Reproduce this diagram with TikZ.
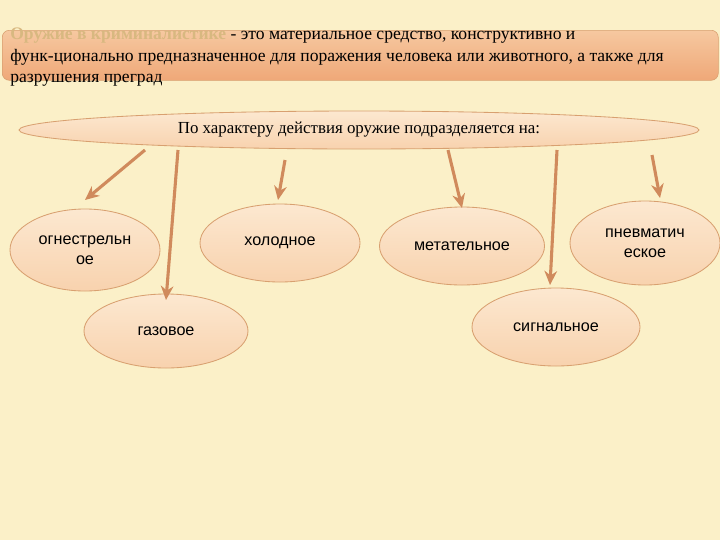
\documentclass[tikz,border=0pt]{standalone}
\usepackage{fontspec}
\setmainfont{Liberation Serif}
\newfontfamily\sansf{Liberation Sans}
\usetikzlibrary{shapes.geometric,arrows.meta}
\definecolor{bg}{HTML}{FBF0C8}
\definecolor{ell}{HTML}{F8D2AE}
\definecolor{ellt}{HTML}{FCE8D0}
\definecolor{edge}{HTML}{D8A070}
\definecolor{arr}{HTML}{D08A5C}
\definecolor{boxa}{HTML}{F6C8A0}
\definecolor{boxb}{HTML}{EFA878}
\definecolor{gold}{HTML}{D8B880}
\tikzset{
 oval/.style={ellipse,draw=edge,line width=0.6pt,top color=ellt,bottom color=ell,font=\sansf\fontsize{11.5}{14}\selectfont,align=center,inner sep=0pt},
 conn/.style={arr,line width=2.2pt,-{Stealth[length=10pt,width=9pt]}}
}
\begin{document}
\begin{tikzpicture}[x=0.025cm,y=-0.025cm]
\fill[bg] (0,0) rectangle (720,540);
\useasboundingbox (0,0) rectangle (720,540);
\node[draw=edge,rounded corners=5pt,top color=boxa,bottom color=boxb,minimum width=716*0.025cm,minimum height=50*0.025cm,anchor=north west,inner sep=0pt] (box) at (2,30) {};
\node[anchor=north west,align=left,font=\fontsize{12.5}{15}\selectfont,inner sep=0pt] (boxt) at (10,28) {\textcolor{gold}{\textbf{Оружие в криминалистике}} - это материальное средство, конструктивно и\\функ-ционально предназначенное для поражения человека или животного, а также для\\разрушения преград};
\node[oval,minimum width=680*0.025cm,minimum height=38*0.025cm,font=\fontsize{12}{14}\selectfont] (main) at (359,130) {По характеру действия оружие подразделяется на:};
\node[oval,minimum width=150*0.025cm,minimum height=82*0.025cm] (o1) at (85,250) {огнестрельн\\ое};
\node[oval,minimum width=160*0.025cm,minimum height=78*0.025cm] (o2) at (280,243) {холодное};
\node[oval,minimum width=164*0.025cm,minimum height=74*0.025cm] (o3) at (166,331) {газовое};
\node[oval,minimum width=165*0.025cm,minimum height=78*0.025cm] (o4) at (462,246) {метательное};
\node[oval,minimum width=150*0.025cm,minimum height=84*0.025cm] (o5) at (645,243) {пневматич\\еское};
\node[oval,minimum width=168*0.025cm,minimum height=78*0.025cm] (o6) at (556,327) {сигнальное};
\coordinate (s1) at (145,150); \coordinate (e1) at (85,200);
\coordinate (s2) at (178,150); \coordinate (e2) at (166,300);
\coordinate (s3) at (285,160); \coordinate (e3) at (278,200);
\coordinate (s4) at (448,150); \coordinate (e4) at (462,208);
\coordinate (s5) at (557,150); \coordinate (e5) at (550,285);
\coordinate (s6) at (652,155); \coordinate (e6) at (660,198);
\foreach \i in {1,...,6} \draw[conn] (s\i) -- (e\i);
\end{tikzpicture}
\end{document}
